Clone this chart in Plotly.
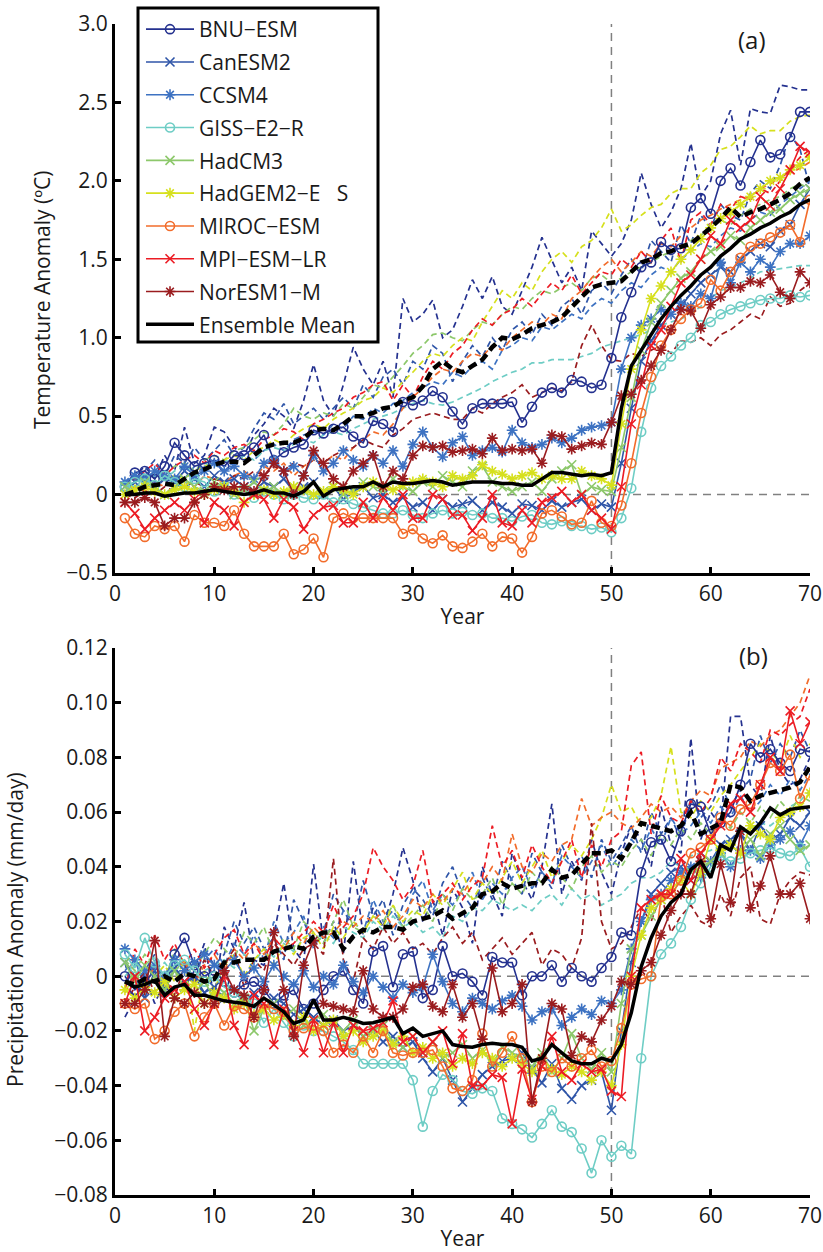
import plotly.graph_objects as go

years = list(range(1, 71))

models = ["BNU−ESM", "CanESM2", "CCSM4", "GISS−E2−R", "HadCM3",
          "HadGEM2−E\u00a0\u00a0\u00a0S", "MIROC−ESM", "MPI−ESM−LR", "NorESM1−M"]

# ---------------- Temperature anomaly (°C): experiment runs (solid) ----------------
bnu_t = [0.05,0.14,0.15,0.10,0.18,0.33,0.25,0.18,0.20,0.22,
         0.18,0.25,0.25,0.30,0.38,0.22,0.27,0.30,0.32,0.41,
         0.39,0.42,0.43,0.37,0.33,0.47,0.45,0.40,0.59,0.57,
         0.60,0.66,0.62,0.53,0.45,0.55,0.58,0.58,0.58,0.59,
         0.46,0.56,0.65,0.68,0.65,0.73,0.72,0.68,0.70,0.87,
         1.13,1.29,1.45,1.48,1.61,1.56,1.57,1.83,1.89,1.79,
         2.00,2.08,1.97,2.12,2.26,2.15,2.17,2.28,2.44,2.44]
can_t = [0.05,0.08,0.12,0.05,0.10,0.08,0.15,0.10,0.05,0.12,
         0.08,0.10,0.05,0.02,0.08,0.05,0.10,0.02,0.05,0.08,
         0.00,0.05,-0.03,0.02,0.05,-0.02,0.00,-0.05,-0.02,-0.08,
         -0.05,-0.10,-0.03,-0.08,-0.06,-0.04,-0.10,-0.05,-0.08,-0.12,
         -0.06,-0.07,-0.10,-0.04,-0.08,-0.05,-0.03,-0.10,-0.06,-0.08,
         0.20,0.55,0.85,0.98,1.08,1.15,1.20,1.28,1.35,1.40,
         1.45,1.42,1.50,1.55,1.60,1.58,1.68,1.72,1.85,1.95]
ccsm_t = [0.08,0.12,0.10,0.15,0.12,0.10,0.18,0.12,0.15,0.20,
          0.15,0.18,0.12,0.10,0.20,0.22,0.15,0.18,0.12,0.25,
          0.15,0.20,0.28,0.22,0.18,0.25,0.20,0.28,0.18,0.32,
          0.40,0.30,0.24,0.33,0.37,0.25,0.28,0.30,0.27,0.41,
          0.33,0.30,0.32,0.36,0.33,0.36,0.41,0.43,0.44,0.46,
          0.80,1.00,1.08,1.12,1.18,1.15,1.22,1.20,1.28,1.25,
          1.48,1.35,1.48,1.42,1.50,1.45,1.55,1.60,1.60,1.65]
giss_t = [0.05,0.08,0.10,0.06,0.12,0.08,0.05,0.10,0.08,0.02,
          0.05,0.00,0.03,-0.02,0.02,0.00,-0.03,0.00,-0.02,-0.03,
          0.00,-0.05,-0.03,-0.06,-0.08,-0.10,-0.12,-0.12,-0.10,-0.13,
          -0.15,-0.12,-0.10,-0.12,-0.11,-0.13,-0.12,-0.15,-0.15,-0.17,
          -0.14,-0.13,-0.18,-0.19,-0.17,-0.20,-0.20,-0.22,-0.21,-0.24,
          -0.15,0.04,0.40,0.68,0.82,0.88,0.95,1.00,1.08,1.10,
          1.15,1.18,1.20,1.22,1.24,1.25,1.25,1.27,1.26,1.27]
hadcm3_t = [0.05,0.02,0.08,0.05,0.00,0.05,0.10,0.05,0.02,0.08,
            0.05,0.00,0.03,0.08,0.02,0.05,0.00,0.05,0.03,0.00,
            0.02,0.05,0.00,0.03,0.08,0.05,0.03,0.10,0.05,0.02,
            0.08,0.05,0.12,0.08,0.05,0.15,0.18,0.08,0.05,0.02,
            0.05,0.08,0.02,0.10,0.15,0.19,0.00,0.05,0.03,0.02,
            0.30,0.62,0.92,1.10,1.22,1.30,1.38,1.42,1.50,1.55,
            1.58,1.65,1.62,1.70,1.75,1.80,1.82,1.88,1.92,1.95]
hadgem_t = [0.00,0.03,0.05,0.02,0.00,0.03,0.05,0.02,0.00,0.03,
            0.05,0.02,-0.05,0.00,0.03,0.00,0.02,0.05,0.03,0.00,
            0.02,0.05,0.03,0.00,0.05,0.08,0.05,0.03,0.06,0.08,
            0.10,0.08,0.05,0.12,0.10,0.12,0.19,0.15,0.13,0.10,
            0.12,0.14,0.10,0.12,0.10,0.10,0.15,0.12,0.10,0.06,
            0.45,0.80,1.05,1.25,1.33,1.42,1.50,1.56,1.63,1.70,
            1.76,1.80,1.85,1.90,1.95,2.00,2.02,2.07,2.10,2.15]
miroc_t = [-0.15,-0.25,-0.27,-0.20,-0.22,-0.20,-0.30,-0.13,-0.18,-0.18,
           -0.20,-0.10,-0.25,-0.33,-0.33,-0.33,-0.25,-0.38,-0.35,-0.28,
           -0.40,-0.15,-0.12,-0.15,-0.15,-0.15,-0.15,-0.15,-0.25,-0.22,
           -0.28,-0.31,-0.26,-0.33,-0.34,-0.30,-0.25,-0.33,-0.27,-0.28,
           -0.37,-0.27,-0.12,-0.10,-0.14,-0.19,-0.18,-0.04,-0.18,-0.20,
           -0.07,0.20,0.52,0.75,0.95,1.05,1.12,1.18,1.22,1.37,
           1.30,1.42,1.51,1.58,1.60,1.64,1.67,1.72,1.61,1.88]
mpi_t = [-0.05,-0.12,-0.22,-0.15,-0.10,-0.05,-0.10,-0.03,-0.18,-0.05,
         -0.10,-0.20,-0.05,0.00,-0.03,-0.15,-0.03,-0.08,-0.22,-0.13,
         -0.08,-0.07,-0.18,-0.18,-0.05,-0.15,-0.02,-0.10,0.00,-0.15,
         -0.15,0.00,-0.03,-0.13,-0.13,-0.23,-0.15,0.00,-0.18,-0.20,
         -0.10,-0.18,-0.05,-0.02,0.02,-0.05,0.00,-0.10,-0.15,-0.22,
         0.05,0.45,0.70,0.95,1.05,1.20,1.35,1.40,1.50,1.65,
         1.60,1.75,1.70,1.75,1.90,1.84,1.95,2.07,2.22,2.18]
nor_t = [-0.05,-0.05,-0.02,-0.05,-0.20,-0.15,-0.15,-0.05,0.00,0.05,
         0.03,0.05,0.05,0.02,0.12,0.20,0.15,0.00,0.12,0.28,
         0.20,0.10,0.05,0.15,0.20,0.25,0.05,0.15,0.10,0.25,
         0.31,0.30,0.31,0.27,0.28,0.29,0.26,0.36,0.28,0.29,
         0.28,0.29,0.20,0.38,0.37,0.29,0.31,0.33,0.32,0.46,
         0.63,0.64,0.73,0.82,0.92,1.05,1.18,1.17,1.06,1.21,
         1.26,1.32,1.32,1.36,1.35,1.40,1.29,1.25,1.42,1.35]
ens_t = [0.00,0.00,0.01,0.01,-0.01,0.00,0.01,0.01,0.02,0.03,
         0.02,0.01,0.00,0.01,0.03,0.01,0.01,-0.01,0.02,0.08,
         -0.01,0.03,0.04,0.05,0.05,0.08,0.05,0.08,0.07,0.07,
         0.08,0.09,0.08,0.06,0.07,0.08,0.08,0.08,0.07,0.07,
         0.06,0.06,0.10,0.14,0.14,0.13,0.12,0.13,0.12,0.14,
         0.55,0.82,0.92,1.02,1.12,1.20,1.27,1.33,1.40,1.45,
         1.52,1.57,1.63,1.66,1.70,1.73,1.77,1.80,1.85,1.88]

# ---------------- Temperature anomaly (°C): control runs (dashed) ----------------
bnu_tc = [0.05,0.12,0.18,0.10,0.25,0.15,0.43,0.20,0.25,0.43,
          0.40,0.30,0.25,0.38,0.45,0.55,0.50,0.42,0.60,0.83,
          0.60,0.50,0.70,0.94,0.80,0.70,0.85,0.62,1.25,1.10,
          1.15,1.24,1.00,1.05,1.20,1.37,1.25,1.39,1.20,1.15,
          1.30,1.45,1.64,1.50,1.35,1.45,1.30,1.68,1.60,1.52,
          1.60,1.75,2.05,1.85,1.70,1.80,1.95,2.24,1.90,2.00,
          2.30,2.45,2.10,2.46,2.44,2.43,2.61,2.60,2.58,2.58]
can_tc = [0.00,0.08,0.15,0.22,0.12,0.25,0.20,0.30,0.22,0.28,
          0.35,0.25,0.30,0.42,0.52,0.48,0.58,0.45,0.50,0.55,
          0.48,0.55,0.62,0.55,0.70,0.62,0.75,0.80,0.70,0.85,
          0.80,0.95,0.90,0.72,0.85,0.95,0.88,1.00,0.92,1.05,
          1.10,1.02,1.15,1.08,1.20,1.25,1.15,1.30,1.35,1.28,
          1.40,1.50,1.42,1.62,1.55,1.48,1.72,1.60,1.78,1.70,
          1.85,1.78,1.75,1.92,2.00,1.95,2.10,2.30,2.20,1.95]
ccsm_tc = [0.02,0.05,0.10,0.08,0.15,0.12,0.10,0.18,0.15,0.22,
           0.18,0.20,0.25,0.22,0.28,0.32,0.28,0.35,0.38,0.40,
           0.38,0.45,0.42,0.50,0.48,0.55,0.52,0.58,0.60,0.65,
           0.68,0.72,0.70,0.78,0.75,0.82,0.85,0.80,0.92,0.95,
           1.00,0.98,1.07,1.05,1.10,1.15,1.12,1.20,1.25,1.22,
           1.30,1.35,1.32,1.40,1.45,1.42,1.50,1.55,1.60,1.58,
           1.65,1.70,1.68,1.75,1.80,1.78,1.85,1.90,1.95,2.00]
giss_tc = [0.05,0.08,0.10,0.12,0.10,0.15,0.18,0.15,0.20,0.18,
           0.22,0.20,0.25,0.22,0.28,0.30,0.28,0.32,0.35,0.33,
           0.38,0.40,0.38,0.42,0.45,0.48,0.50,0.52,0.55,0.58,
           0.60,0.58,0.57,0.59,0.62,0.65,0.68,0.72,0.75,0.78,
           0.80,0.84,0.84,0.86,0.86,0.86,0.88,0.90,0.94,0.96,
           0.98,1.00,1.02,1.05,1.08,1.10,1.12,1.15,1.20,1.25,
           1.30,1.32,1.35,1.38,1.42,1.43,1.44,1.45,1.46,1.46]
hadcm3_tc = [0.05,0.10,0.08,0.15,0.12,0.18,0.20,0.15,0.22,0.25,
             0.22,0.28,0.30,0.35,0.40,0.38,0.45,0.55,0.50,0.48,
             0.52,0.50,0.58,0.55,0.62,0.70,0.68,0.75,0.82,0.90,
             0.95,1.02,1.03,1.00,0.98,1.05,1.10,1.08,1.15,1.20,
             1.18,1.25,1.30,1.28,1.32,1.35,1.30,1.38,1.40,1.35,
             1.38,1.42,1.45,1.48,1.52,1.55,1.58,1.62,1.65,1.72,
             1.75,1.72,1.78,1.82,1.85,1.88,1.90,1.95,1.98,1.95]
hadgem_tc = [0.02,0.05,0.08,0.05,0.10,0.12,0.10,0.15,0.18,0.20,
             0.22,0.25,0.22,0.28,0.30,0.35,0.32,0.38,0.42,0.45,
             0.42,0.48,0.52,0.55,0.60,0.62,0.68,0.65,0.72,0.78,
             0.85,0.90,0.88,0.95,1.00,0.98,1.10,1.20,1.30,1.25,
             1.35,1.30,1.42,1.50,1.55,1.48,1.58,1.62,1.70,1.82,
             1.68,1.72,1.78,1.83,1.85,1.92,1.95,1.95,2.05,2.10,
             2.20,2.22,2.28,2.35,2.30,2.32,2.32,2.38,2.41,2.42]
miroc_tc = [0.00,0.05,0.02,0.08,0.05,0.10,0.08,0.05,0.12,0.10,
            0.08,0.12,0.15,0.10,0.18,0.15,0.20,0.12,0.18,0.22,
            0.20,0.25,0.22,0.30,0.35,0.40,0.38,0.45,0.55,0.62,
            0.68,0.75,0.80,0.78,0.85,0.90,0.88,0.95,0.92,1.00,
            1.05,1.10,1.08,1.15,1.12,1.25,1.30,1.38,1.45,1.50,
            1.42,1.48,1.55,1.52,1.60,1.58,1.65,1.70,1.75,1.78,
            1.82,1.85,1.88,1.90,1.95,1.98,2.02,2.05,2.08,2.12]
mpi_tc = [0.05,0.10,0.15,0.20,0.12,0.18,0.22,0.25,0.20,0.28,
          0.25,0.30,0.32,0.28,0.35,0.38,0.42,0.40,0.35,0.45,
          0.48,0.52,0.55,0.62,0.65,0.70,0.72,0.60,0.70,0.62,
          0.75,0.85,0.80,0.90,0.95,1.05,1.12,1.08,1.15,1.18,
          1.25,1.20,1.28,1.35,1.30,1.40,1.28,1.35,1.42,1.40,
          1.50,1.45,1.55,1.48,1.62,1.70,1.48,1.75,1.80,1.72,
          1.85,1.82,1.90,1.88,1.95,1.92,2.00,2.08,2.15,2.20]
nor_tc = [0.00,-0.02,0.02,0.00,0.05,0.02,0.05,0.08,0.05,0.10,
          0.08,0.12,0.10,0.15,0.12,0.18,0.15,0.20,0.18,0.22,
          0.20,0.25,0.28,0.30,0.35,0.32,0.30,0.38,0.42,0.48,
          0.50,0.52,0.50,0.48,0.48,0.55,0.52,0.58,0.62,0.65,
          0.70,0.62,0.65,0.68,0.66,0.72,0.95,1.08,0.95,0.86,
          0.85,0.90,0.88,0.92,0.95,0.90,0.98,0.97,1.00,0.95,
          1.02,1.05,1.10,1.15,1.12,1.26,1.20,1.22,1.30,1.35]
ens_tc = [0.00,0.02,0.05,0.06,0.07,0.06,0.10,0.14,0.16,0.19,
          0.21,0.21,0.20,0.25,0.30,0.32,0.33,0.33,0.36,0.41,
          0.42,0.41,0.45,0.50,0.50,0.52,0.55,0.56,0.60,0.62,
          0.69,0.80,0.85,0.80,0.78,0.82,0.86,0.94,1.00,0.99,
          1.02,1.06,1.08,1.10,1.13,1.20,1.26,1.32,1.34,1.35,
          1.36,1.42,1.48,1.50,1.54,1.55,1.58,1.60,1.65,1.70,
          1.76,1.83,1.77,1.80,1.82,1.85,1.88,1.92,1.98,2.02]

# ---------------- Precipitation anomaly (mm/day): experiment runs (solid) ----------------
bnu_p = [0.000,-0.005,-0.002,0.002,-0.006,0.008,0.014,0.004,0.000,0.002,
         -0.002,-0.006,-0.003,-0.002,-0.005,-0.010,-0.007,-0.005,-0.012,-0.010,
         -0.005,0.000,0.002,-0.005,-0.010,0.009,0.011,-0.004,0.008,0.009,
         -0.008,-0.005,0.011,0.000,0.001,-0.002,-0.007,0.007,0.005,0.005,
         -0.007,0.000,0.000,0.004,-0.002,0.003,0.000,-0.002,0.003,0.007,
         0.016,0.015,0.038,0.049,0.050,0.042,0.053,0.063,0.062,0.052,
         0.056,0.060,0.070,0.085,0.080,0.083,0.078,0.075,0.083,0.082]
can_p = [0.005,0.000,-0.008,0.002,-0.005,0.003,-0.002,0.000,-0.006,-0.004,
         -0.008,-0.005,-0.010,-0.006,-0.012,-0.008,-0.010,-0.014,-0.012,-0.015,
         -0.018,-0.016,-0.020,-0.018,-0.022,-0.020,-0.024,-0.022,-0.026,-0.024,
         -0.030,-0.035,-0.030,-0.038,-0.046,-0.041,-0.036,-0.033,-0.031,-0.030,
         -0.028,-0.034,-0.039,-0.032,-0.041,-0.045,-0.040,-0.038,-0.035,-0.049,
         -0.020,0.005,0.020,0.030,0.034,0.038,0.040,0.035,0.045,0.042,
         0.048,0.050,0.052,0.046,0.055,0.050,0.052,0.058,0.055,0.060]
ccsm_p = [0.010,0.006,0.002,0.004,0.000,0.006,0.002,0.005,0.008,0.004,
          0.002,0.006,0.000,0.003,-0.002,0.004,0.000,-0.003,0.002,-0.004,
          0.000,-0.003,0.004,-0.002,-0.006,0.000,-0.004,-0.008,-0.003,-0.006,
          -0.004,0.008,-0.002,-0.010,-0.013,-0.008,-0.010,-0.012,-0.009,-0.007,
          -0.011,-0.016,-0.013,-0.012,-0.018,-0.015,-0.012,-0.014,-0.009,-0.010,
          -0.005,0.010,0.020,0.028,0.030,0.035,0.038,0.040,0.036,0.042,
          0.045,0.040,0.046,0.046,0.043,0.048,0.050,0.053,0.048,0.055]
giss_p = [0.008,0.003,0.014,0.005,0.000,0.004,0.006,0.002,-0.002,0.000,
          -0.004,-0.006,-0.008,-0.010,-0.017,-0.012,-0.017,-0.022,-0.018,-0.020,
          -0.020,-0.022,-0.024,-0.027,-0.032,-0.032,-0.032,-0.032,-0.032,-0.038,
          -0.055,-0.042,-0.036,-0.038,-0.042,-0.043,-0.041,-0.042,-0.052,-0.054,
          -0.056,-0.059,-0.054,-0.049,-0.055,-0.057,-0.063,-0.072,-0.060,-0.066,
          -0.062,-0.065,-0.030,0.000,0.008,0.012,0.018,0.028,0.034,0.040,
          0.044,0.042,0.043,0.045,0.046,0.047,0.045,0.044,0.047,0.040]
hadcm3_p = [0.005,-0.002,0.004,0.000,-0.005,0.002,-0.004,-0.006,-0.002,-0.008,
            -0.006,-0.010,-0.008,-0.020,-0.012,-0.010,-0.015,-0.012,-0.018,-0.016,
            -0.014,-0.018,-0.020,-0.016,-0.022,-0.020,-0.018,-0.024,-0.026,-0.022,
            -0.028,-0.024,-0.030,-0.028,-0.025,-0.030,-0.027,-0.032,-0.026,-0.028,
            -0.030,-0.033,-0.028,-0.035,-0.030,-0.021,-0.030,-0.034,-0.028,-0.035,
            -0.010,0.010,0.015,0.022,0.028,0.030,0.035,0.038,0.040,0.042,
            0.045,0.048,0.045,0.050,0.044,0.052,0.055,0.050,0.046,0.048]
hadgem_p = [-0.005,-0.008,-0.004,-0.006,-0.002,-0.008,-0.005,-0.003,-0.010,-0.006,
            -0.008,-0.012,-0.010,-0.014,-0.012,-0.016,-0.014,-0.018,-0.015,-0.020,
            -0.018,-0.016,-0.022,-0.020,-0.024,-0.022,-0.020,-0.025,-0.022,-0.028,
            -0.026,-0.030,-0.028,-0.033,-0.030,-0.032,-0.028,-0.030,-0.033,-0.030,
            -0.032,-0.035,-0.030,-0.034,-0.036,-0.033,-0.035,-0.038,-0.035,-0.040,
            -0.025,0.000,0.015,0.025,0.028,0.032,0.035,0.030,0.038,0.050,
            0.046,0.048,0.045,0.055,0.052,0.050,0.058,0.060,0.062,0.067]
miroc_p = [-0.010,-0.012,-0.010,-0.023,-0.020,-0.013,-0.010,-0.022,-0.015,-0.010,
           -0.018,-0.011,-0.012,-0.015,-0.010,-0.012,-0.013,-0.020,-0.019,-0.018,
           -0.020,-0.028,-0.025,-0.028,-0.022,-0.028,-0.020,-0.028,-0.029,-0.028,
           -0.028,-0.027,-0.033,-0.041,-0.042,-0.038,-0.021,-0.033,-0.028,-0.022,
           -0.030,-0.046,-0.033,-0.035,-0.030,-0.033,-0.030,-0.027,-0.033,-0.031,
           -0.019,-0.003,-0.001,0.000,0.029,0.030,0.035,0.045,0.047,0.050,
           0.058,0.055,0.061,0.063,0.070,0.078,0.075,0.081,0.065,0.0735]
mpi_p = [-0.010,0.000,-0.020,-0.015,-0.008,-0.005,-0.002,-0.012,-0.018,-0.010,
         0.000,-0.018,-0.025,-0.007,-0.010,-0.025,-0.012,-0.020,-0.028,-0.016,
         -0.028,-0.017,-0.028,-0.018,-0.020,-0.019,-0.017,-0.009,-0.024,-0.022,
         -0.028,-0.024,-0.020,-0.032,-0.021,-0.040,-0.040,-0.036,-0.037,-0.054,
         -0.034,-0.045,-0.033,-0.022,-0.035,-0.038,-0.032,-0.035,-0.034,-0.042,
         -0.044,0.000,0.025,0.028,0.030,0.030,0.043,0.035,0.045,0.050,
         0.055,0.063,0.065,0.060,0.070,0.080,0.075,0.097,0.085,0.093]
nor_p = [-0.010,-0.010,-0.005,0.013,-0.022,-0.008,-0.010,-0.006,-0.010,-0.010,
         0.002,-0.005,-0.007,-0.015,-0.005,0.016,-0.005,-0.022,0.004,0.013,
         -0.010,-0.011,-0.012,-0.013,0.002,-0.012,-0.015,-0.015,-0.012,-0.004,
         -0.003,-0.011,-0.013,-0.003,-0.015,-0.010,-0.023,0.003,-0.013,-0.010,
         -0.003,-0.046,-0.030,-0.010,-0.012,-0.029,-0.022,-0.024,-0.016,-0.011,
         -0.002,-0.003,0.002,0.005,0.015,0.024,0.030,0.030,0.042,0.021,
         0.041,0.027,0.053,0.025,0.033,0.044,0.030,0.030,0.034,0.021]
ens_p = [-0.002,-0.004,-0.003,-0.0015,-0.007,-0.004,-0.003,-0.007,-0.007,-0.008,
         -0.009,-0.0095,-0.010,-0.011,-0.008,-0.0105,-0.013,-0.0173,-0.016,-0.0086,
         -0.016,-0.016,-0.015,-0.016,-0.0173,-0.017,-0.016,-0.015,-0.021,-0.019,
         -0.022,-0.021,-0.020,-0.025,-0.0257,-0.026,-0.025,-0.0245,-0.025,-0.025,
         -0.026,-0.031,-0.030,-0.025,-0.028,-0.031,-0.032,-0.032,-0.030,-0.031,
         -0.025,-0.0134,0.0035,0.014,0.022,0.027,0.030,0.039,0.042,0.036,
         0.048,0.046,0.0546,0.052,0.056,0.0615,0.059,0.061,0.0615,0.062]

# ---------------- Precipitation anomaly (mm/day): control runs (dashed) ----------------
bnu_pc = [-0.015,-0.008,0.000,-0.010,-0.002,0.005,-0.004,0.002,0.012,-0.008,
          0.018,0.010,0.027,0.006,0.004,0.015,0.034,0.010,0.005,0.041,
          0.012,0.020,0.008,0.042,0.015,0.025,0.018,0.030,0.047,0.035,
          0.020,0.028,0.015,0.032,0.025,0.012,0.040,0.030,0.022,0.045,
          0.035,0.028,0.040,0.063,0.030,0.042,0.035,0.050,0.038,0.030,
          0.045,0.055,0.050,0.040,0.062,0.048,0.045,0.087,0.050,0.060,
          0.055,0.095,0.095,0.070,0.065,0.088,0.075,0.070,0.072,0.080]
can_pc = [0.005,-0.010,0.002,0.008,-0.005,0.003,0.006,-0.002,0.010,0.004,
          0.008,0.020,0.012,0.018,0.010,0.014,0.006,0.028,0.020,0.012,
          0.016,0.030,0.024,0.018,0.035,0.022,0.028,0.015,0.026,0.032,
          0.028,0.022,0.034,0.040,0.030,0.025,0.036,0.028,0.042,0.035,
          0.030,0.045,0.038,0.032,0.048,0.040,0.044,0.036,0.050,0.042,
          0.048,0.055,0.045,0.060,0.052,0.058,0.050,0.065,0.058,0.062,
          0.070,0.062,0.068,0.072,0.088,0.078,0.085,0.080,0.090,0.082]
ccsm_pc = [0.002,0.006,-0.004,0.005,0.000,0.008,0.003,-0.003,0.006,0.010,
           0.004,0.012,0.008,0.015,0.006,0.020,0.012,0.016,0.022,0.010,
           0.018,0.014,0.024,0.020,0.016,0.028,0.020,0.024,0.018,0.030,
           0.035,0.024,0.030,0.026,0.032,0.038,0.028,0.034,0.030,0.036,
           0.040,0.032,0.038,0.034,0.044,0.040,0.036,0.042,0.048,0.040,
           0.045,0.050,0.046,0.054,0.048,0.058,0.052,0.055,0.060,0.056,
           0.062,0.058,0.066,0.060,0.064,0.070,0.066,0.072,0.068,0.074]
giss_pc = [0.000,0.004,-0.002,0.002,0.005,0.000,0.003,0.006,0.002,0.004,
           0.006,0.003,0.008,0.005,0.010,0.007,0.012,0.009,0.014,0.011,
           0.015,0.012,0.018,0.016,0.014,0.020,0.017,0.022,0.018,0.020,
           0.016,0.018,0.014,0.022,0.020,0.025,0.024,0.028,0.026,0.024,
           0.026,0.024,0.028,0.030,0.026,0.032,0.028,0.030,0.026,0.028,
           0.030,0.034,0.036,0.036,0.038,0.042,0.040,0.044,0.045,0.046,
           0.048,0.050,0.052,0.054,0.056,0.055,0.058,0.062,0.064,0.068]
hadcm3_pc = [0.006,0.002,0.008,0.004,-0.002,0.010,0.005,0.003,0.008,0.014,
             0.010,0.006,0.016,0.012,0.018,0.008,0.014,0.010,0.020,0.016,
             0.012,0.020,0.028,0.018,0.016,0.022,0.020,0.026,0.018,0.022,
             0.026,0.020,0.030,0.024,0.032,0.028,0.030,0.036,0.026,0.034,
             0.030,0.038,0.034,0.040,0.036,0.032,0.040,0.044,0.038,0.042,
             0.040,0.046,0.050,0.044,0.052,0.048,0.054,0.050,0.056,0.052,
             0.058,0.054,0.060,0.056,0.062,0.058,0.064,0.060,0.066,0.064]
hadgem_pc = [-0.004,0.002,-0.006,0.000,0.004,-0.002,0.006,-0.020,0.002,-0.005,
             0.004,0.008,0.000,0.006,0.010,0.004,0.012,0.008,0.014,0.016,
             0.010,0.018,0.014,0.020,0.016,0.022,0.018,0.026,0.020,0.024,
             0.022,0.030,0.026,0.032,0.038,0.028,0.034,0.030,0.036,0.042,
             0.034,0.040,0.046,0.036,0.042,0.048,0.044,0.050,0.058,0.070,
             0.060,0.062,0.055,0.058,0.066,0.084,0.060,0.058,0.064,0.060,
             0.066,0.070,0.075,0.080,0.085,0.082,0.078,0.088,0.080,0.085]
miroc_pc = [-0.006,0.000,-0.004,0.004,-0.002,0.002,0.006,-0.003,0.004,0.008,
            0.002,0.010,0.006,0.012,0.008,0.014,0.010,0.016,0.012,0.018,
            0.014,0.016,0.020,0.018,0.022,0.020,0.024,0.018,0.022,0.028,
            0.025,0.030,0.027,0.032,0.030,0.036,0.034,0.040,0.035,0.052,
            0.040,0.038,0.045,0.042,0.048,0.050,0.065,0.055,0.058,0.060,
            0.056,0.054,0.058,0.063,0.060,0.062,0.058,0.064,0.068,0.066,
            0.076,0.078,0.080,0.086,0.084,0.088,0.090,0.095,0.100,0.110]
mpi_pc = [-0.005,0.010,0.004,0.015,0.006,0.012,0.004,0.010,0.003,0.008,
          0.014,0.017,0.008,0.012,0.006,0.014,0.010,0.012,0.016,0.020,
          0.016,0.026,0.018,0.022,0.030,0.047,0.040,0.035,0.028,0.033,
          0.046,0.027,0.030,0.034,0.028,0.033,0.036,0.055,0.040,0.046,
          0.036,0.048,0.040,0.034,0.042,0.050,0.036,0.048,0.040,0.050,
          0.053,0.077,0.082,0.052,0.066,0.058,0.056,0.064,0.060,0.065,
          0.080,0.075,0.085,0.082,0.078,0.090,0.088,0.092,0.095,0.105]
nor_pc = [-0.010,-0.004,0.002,-0.006,0.000,-0.008,0.004,-0.002,0.006,0.000,
          0.004,0.010,-0.004,0.006,0.002,0.012,0.008,0.004,0.010,0.012,
          0.008,0.043,0.006,-0.002,0.014,0.010,0.018,0.012,0.016,0.010,
          0.012,0.008,0.014,0.018,0.012,0.016,0.006,0.010,0.014,0.008,
          0.012,0.016,0.004,0.010,0.008,0.003,0.014,0.056,0.020,0.010,
          0.012,0.018,0.025,0.020,0.030,0.016,0.022,0.026,0.020,0.018,
          0.030,0.022,0.036,0.040,0.021,0.019,0.030,0.035,0.038,0.037]
ens_pc = [-0.002,-0.003,-0.001,-0.002,0.000,-0.002,0.001,0.000,-0.002,-0.001,
          0.005,0.005,0.006,0.006,0.006,0.009,0.010,0.011,0.010,0.0145,
          0.016,0.016,0.010,0.0145,0.017,0.016,0.018,0.018,0.017,0.020,
          0.021,0.022,0.024,0.021,0.023,0.025,0.030,0.031,0.034,0.032,
          0.033,0.034,0.034,0.039,0.036,0.037,0.041,0.045,0.045,0.046,
          0.043,0.049,0.056,0.055,0.054,0.053,0.055,0.060,0.052,0.054,
          0.056,0.070,0.069,0.064,0.066,0.067,0.068,0.069,0.071,0.0765]

colors = ["#24318f", "#2f55a8", "#3d72c2", "#6ecdc5", "#8dc86b",
          "#d6e01d", "#f26c2b", "#ec1c24", "#9a1c1f"]
symbols = ["circle-open", "x-thin-open", "asterisk-open", "circle-open", "x-thin-open",
           "asterisk-open", "circle-open", "x-thin-open", "asterisk-open"]

temp_exp = [bnu_t, can_t, ccsm_t, giss_t, hadcm3_t, hadgem_t, miroc_t, mpi_t, nor_t]
temp_ctl = [bnu_tc, can_tc, ccsm_tc, giss_tc, hadcm3_tc, hadgem_tc, miroc_tc, mpi_tc, nor_tc]
prec_exp = [bnu_p, can_p, ccsm_p, giss_p, hadcm3_p, hadgem_p, miroc_p, mpi_p, nor_p]
prec_ctl = [bnu_pc, can_pc, ccsm_pc, giss_pc, hadcm3_pc, hadgem_pc, miroc_pc, mpi_pc, nor_pc]

fig = go.Figure()


def add_panel(exp, ctl, ens_e, ens_c, xa, ya, legend):
    # control runs, dashed
    for name, col, vals in zip(models, colors, ctl):
        fig.add_trace(go.Scatter(x=years, y=vals, mode="lines", xaxis=xa, yaxis=ya,
                                 line=dict(color=col, width=1.7, dash="6px,4px"),
                                 showlegend=False, legendgroup=name, hoverinfo="skip"))
    # experiment runs, solid with markers
    for name, col, sym, vals in zip(models, colors, symbols, exp):
        fig.add_trace(go.Scatter(x=years, y=vals, mode="lines+markers", name=name,
                                 xaxis=xa, yaxis=ya, legendgroup=name, showlegend=legend,
                                 line=dict(color=col, width=1.6),
                                 marker=dict(symbol=sym, size=9, color=col,
                                             line=dict(color=col, width=1.6))))
    fig.add_trace(go.Scatter(x=years, y=ens_c, mode="lines", xaxis=xa, yaxis=ya,
                             line=dict(color="black", width=4.5, dash="9px,5px"),
                             showlegend=False, legendgroup="ens", hoverinfo="skip"))
    fig.add_trace(go.Scatter(x=years, y=ens_e, mode="lines", name="Ensemble Mean",
                             xaxis=xa, yaxis=ya, legendgroup="ens", showlegend=legend,
                             line=dict(color="black", width=3.5)))


add_panel(temp_exp, temp_ctl, ens_t, ens_tc, "x", "y", True)
add_panel(prec_exp, prec_ctl, ens_p, ens_pc, "x2", "y2", False)

W, H = 823, 1252
x_dom = [115 / W, 810 / W]
ya_dom = [1 - 573 / H, 1 - 24 / H]
yb_dom = [1 - 1195 / H, 1 - 648 / H]

font = "Open Sans, Lato, sans-serif"
FS = 21
axis_common = dict(showline=True, linecolor="black", linewidth=3, ticks="inside",
                   ticklen=6, tickwidth=2.5, tickcolor="black", showgrid=False,
                   zeroline=False, mirror=False, automargin=False,
                   tickfont=dict(family=font, size=FS, color="#1a1a1a"))

xt = [0, 10, 20, 30, 40, 50, 60, 70]
fig.update_layout(
    width=W, height=H, margin=dict(l=0, r=0, t=0, b=0),
    plot_bgcolor="white", paper_bgcolor="white",
    font=dict(family=font, size=FS, color="#1a1a1a"),
    xaxis=dict(domain=x_dom, range=[0, 70], anchor="y", tickvals=xt,
               title=dict(text="Year", standoff=4,
                          font=dict(family=font, size=FS, color="#1a1a1a")),
               **axis_common),
    yaxis=dict(domain=ya_dom, range=[-0.5, 3.0], anchor="x",
               tickvals=[-0.5, 0, 0.5, 1.0, 1.5, 2.0, 2.5, 3.0],
               ticktext=["−0.5", "0", "0.5", "1.0", "1.5", "2.0", "2.5", "3.0"],
               **axis_common),
    xaxis2=dict(domain=x_dom, range=[0, 70], anchor="y2", tickvals=xt,
                title=dict(text="Year", standoff=4,
                           font=dict(family=font, size=FS, color="#1a1a1a")),
                **axis_common),
    yaxis2=dict(domain=yb_dom, range=[-0.08, 0.12], anchor="x2",
                tickvals=[-0.08, -0.06, -0.04, -0.02, 0, 0.02, 0.04, 0.06, 0.08, 0.10, 0.12],
                ticktext=["−0.08", "−0.06", "−0.04", "−0.02", "0", "0.02", "0.04",
                          "0.06", "0.08", "0.10", "0.12"],
                **axis_common),
    legend=dict(x=141 / W, y=1 - 9 / H, xanchor="left", yanchor="top",
                bgcolor="rgba(0,0,0,0)", borderwidth=0,
                font=dict(family=font, size=FS, color="#1a1a1a"),
                tracegroupgap=2.5, itemwidth=48),
    showlegend=True,
)

# reference lines: end of the forcing period and zero anomaly
for xa, ya, y0, y1 in [("x", "y", -0.5, 3.0), ("x2", "y2", -0.08, 0.12)]:
    fig.add_shape(type="line", xref=xa, yref=ya, x0=50, x1=50, y0=y0, y1=y1,
                  line=dict(color="#808080", width=1.5, dash="8px,6px"), layer="below")
    fig.add_shape(type="line", xref=xa, yref=ya, x0=0, x1=70, y0=0, y1=0,
                  line=dict(color="#808080", width=1.5, dash="8px,6px"), layer="below")

# legend frame
fig.add_shape(type="rect", xref="paper", yref="paper",
              x0=138 / W, x1=378 / W, y0=1 - 342 / H, y1=1 - 8 / H,
              fillcolor="white", line=dict(color="black", width=3), layer="above")

ann = dict(showarrow=False, xref="paper", yref="paper", xanchor="center", yanchor="middle",
           font=dict(family=font, size=FS, color="#1a1a1a"))
big = {**ann, "font": dict(family=font, size=24, color="#1a1a1a")}
fig.add_annotation(text="Temperature Anomaly (ºC)", x=42 / W, y=1 - 300 / H,
                   textangle=-90, **ann)
fig.add_annotation(text="Precipitation Anomaly (mm/day)", x=15 / W, y=1 - 930 / H,
                   textangle=-90, **ann)
fig.add_annotation(text="(a)", x=752 / W, y=1 - 40 / H, **big)
fig.add_annotation(text="(b)", x=753 / W, y=1 - 655 / H, **big)

fig.write_html("out.html")
